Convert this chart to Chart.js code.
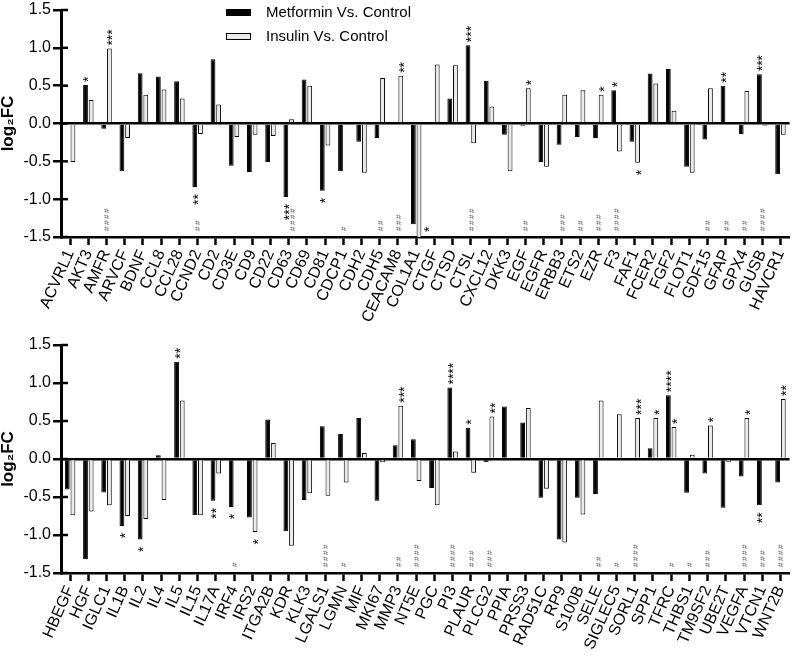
<!DOCTYPE html>
<html>
<head>
<meta charset="utf-8">
<script src="https://cdn.jsdelivr.net/npm/chart.js@4/dist/chart.umd.min.js"></script>
<style>
  body { margin: 0; background: #fff; }
  canvas { display: block; }
</style>
</head>
<body>
<canvas id="topChart" width="800" height="335"></canvas>
<canvas id="bottomChart" width="800" height="322"></canvas>
<script>
// ---- data: upper panel ----
const labelsTop = ['ACVRL1', 'AKT3', 'AMFR', 'ARVCF', 'BDNF', 'CCL8', 'CCL28', 'CCND2', 'CD2', 'CD3E',
  'CD9', 'CD22', 'CD63', 'CD69', 'CD81', 'CDCP1', 'CDH2', 'CDH5', 'CEACAM8', 'COL1A1',
  'CTGF', 'CTSD', 'CTSL', 'CXCL12', 'DKK3', 'EGF', 'EGFR', 'ERBB3', 'ETS2', 'EZR',
  'F3', 'FAF1', 'FCER2', 'FGF2', 'FLOT1', 'GDF15', 'GFAP', 'GPX4', 'GUSB', 'HAVCR1'];
const metforminTop = [0.0, 0.51, -0.07, -0.63, 0.665, 0.62, 0.56, -0.84, 0.85, -0.56,
  -0.64, -0.51, -0.97, 0.58, -0.89, -0.63, -0.24, -0.19, 0.0, -1.33,
  0.01, 0.33, 1.035, 0.565, -0.15, -0.03, -0.51, -0.28, -0.18, -0.19,
  0.44, -0.24, 0.66, 0.72, -0.57, -0.21, 0.50, -0.14, 0.65, -0.67];
const insulinTop = [-0.51, 0.31, 0.99, -0.19, 0.38, 0.45, 0.33, -0.14, 0.25, -0.18,
  -0.15, -0.165, 0.057, 0.50, -0.29, 0.017, -0.65, 0.60, 0.63, -1.52,
  0.78, 0.77, -0.26, 0.226, -0.63, 0.465, -0.57, 0.38, 0.44, 0.38,
  -0.37, -0.52, 0.53, 0.17, -0.65, 0.465, 0.013, 0.43, -0.03, -0.15];
const metStarsTop = { AKT3: '*', CCND2: '**', CD63: '***', CD81: '*', CTSL: '***', F3: '*', GFAP: '**', GUSB: '***' };
const insStarsTop = { AMFR: '***', CEACAM8: '**', COL1A1: '*', EGF: '*', EZR: '*', FAF1: '*' };
const hashTop = { AMFR: '####', CCND2: '##', CD63: '####', CDCP1: '#', CDH5: '##', CEACAM8: '###', CTSL: '####',
  EGF: '##', ERBB3: '###', ETS2: '##', EZR: '###', F3: '####', GDF15: '##', GFAP: '##', GPX4: '##', GUSB: '####' };

// ---- data: lower panel ----
const labelsBottom = ['HBEGF', 'HGF', 'IGLC1', 'IL1B', 'IL2', 'IL4', 'IL5', 'IL15', 'IL17A', 'IRF4',
  'IRS2', 'ITGA2B', 'KDR', 'KLK3', 'LGALS1', 'LGMN', 'MIF', 'MKI67', 'MMP3', 'NT5E',
  'PGC', 'PI3', 'PLAUR', 'PLCG2', 'PPIA', 'PRSS3', 'RAD51C', 'RP9', 'S100B', 'SELE',
  'SIGLEC5', 'SORL1', 'SPP1', 'TFRC', 'THBS1', 'TM9SF2', 'UBE2T', 'VEGFA', 'VTCN1', 'WNT2B'];
const metforminBottom = [-0.40, -1.32, -0.44, -0.88, -1.06, 0.05, 1.28, -0.74, -0.55, -0.63,
  -0.77, 0.52, -0.95, -0.54, 0.43, 0.33, 0.54, -0.55, 0.18, 0.26,
  -0.38, 0.94, 0.41, -0.04, 0.69, 0.48, -0.51, -1.06, -0.51, -0.46,
  -0.02, 0.0, 0.14, 0.84, -0.445, -0.19, -0.64, -0.23, -0.61, -0.31];
const insulinBottom = [-0.74, -0.69, -0.61, -0.75, -0.79, -0.54, 0.77, -0.74, -0.19, 0.0,
  -0.96, 0.21, -1.14, -0.45, -0.485, -0.31, 0.08, -0.04, 0.70, -0.29,
  -0.61, 0.10, -0.18, 0.56, 0.02, 0.67, -0.39, -1.10, -0.73, 0.77,
  0.59, 0.54, 0.54, 0.42, 0.057, 0.44, -0.035, 0.54, 0.0, 0.79];
const metStarsBottom = { IL1B: '*', IL2: '*', IL5: '**', IL17A: '**', IRF4: '*', PI3: '****', PLAUR: '*', TFRC: '****', VTCN1: '**' };
const insStarsBottom = { IRS2: '*', MMP3: '***', PLCG2: '**', SORL1: '***', SPP1: '*', TFRC: '*', TM9SF2: '*', VEGFA: '*', WNT2B: '**' };
const hashBottom = { IRF4: '#', LGALS1: '####', LGMN: '#', MMP3: '##', NT5E: '####', PI3: '####', PLAUR: '###', PLCG2: '###',
  SELE: '##', SIGLEC5: '#', SORL1: '####', TFRC: '#', THBS1: '#', TM9SF2: '###', VEGFA: '####', VTCN1: '###', WNT2B: '####' };

const yTicks = [-1.5, -1.0, -0.5, 0.0, 0.5, 1.0, 1.5];
const seriesNames = ['Metformin Vs. Control', 'Insulin Vs. Control'];

const FONT = "'Liberation Sans', Arial, sans-serif";
Chart.defaults.font.family = FONT;
Chart.defaults.color = '#000';

// text rotated 90deg, the way the significance marks are set
function vText(ctx, s, x, y, align, size, rise) {
  ctx.save();
  ctx.translate(x, y);
  ctx.rotate(-Math.PI / 2);
  ctx.font = size + 'px ' + FONT;
  ctx.textAlign = align;
  ctx.textBaseline = 'alphabetic';
  ctx.fillText(s, 0, rise * size);
  ctx.restore();
}

const marksPlugin = {
  id: 'marks',
  afterDatasetsDraw(chart) {
    const { ctx, chartArea } = chart;
    const xs = chart.scales.x, ys = chart.scales.y;
    ctx.save();
    // y ticks also poke into the plot
    ctx.strokeStyle = '#000';
    ctx.lineWidth = 2.5;
    ys.ticks.forEach((t, i) => {
      const py = ys.getPixelForTick(i);
      ctx.beginPath();
      ctx.moveTo(chartArea.left, py);
      ctx.lineTo(chartArea.left + 7, py);
      ctx.stroke();
    });
    ctx.fillStyle = '#000';
    const lowest = {}; // lowest star pixel below a bar, per label
    chart.data.datasets.forEach((ds, di) => {
      const meta = chart.getDatasetMeta(di);
      chart.data.labels.forEach((lab, i) => {
        const s = ds.stars[lab];
        if (!s) return;
        const bar = meta.data[i];
        ctx.font = '14px ' + FONT;
        const w = ctx.measureText(s).width;
        if (ds.data[i] >= 0) {
          vText(ctx, s, bar.x, bar.y - 3, 'left', 14, 0.57);
        } else if (bar.y + 7 + w > chartArea.bottom - 3) {
          // bar runs off the axis: put the mark beside it
          vText(ctx, s, bar.x + bar.width + 2, chartArea.bottom - 5, 'left', 14, 0.57);
        } else {
          vText(ctx, s, bar.x, bar.y + 7, 'right', 14, 0.57);
          lowest[lab] = { y: bar.y + 7 + w, ds: di };
        }
      });
    });
    ctx.fillStyle = '#555';
    const hashes = chart.options.plugins.marks.hashes;
    const step = 6;
    chart.data.labels.forEach((lab, i) => {
      const h = hashes[lab];
      if (!h) return;
      const base = chartArea.bottom - 6;
      let x = xs.getPixelForValue(i);
      const hit = lowest[lab];
      if (hit && hit.y > base - h.length * step - 2) {
        // move next to the other bar so it does not sit on the stars
        x = chart.getDatasetMeta(1 - hit.ds).data[i].x + 1;
      }
      for (let k = 0; k < h.length; k++) vText(ctx, '#', x, base - k * step, 'left', 8, 0.36);
    });
    ctx.restore();
  }
};

const legendPlugin = {
  id: 'boxLegend',
  afterDraw(chart, args, opts) {
    const ctx = chart.ctx;
    ctx.save();
    chart.data.datasets.forEach((ds, i) => {
      const yy = opts.y + i * opts.gap;
      ctx.fillStyle = ds.backgroundColor;
      ctx.fillRect(opts.x, yy - 3.5, 25, 7);
      ctx.strokeStyle = ds.borderColor;
      ctx.lineWidth = 1;
      ctx.strokeRect(opts.x + 0.5, yy - 3, 24, 6);
      ctx.fillStyle = '#000';
      ctx.font = '15px ' + FONT;
      ctx.textAlign = 'left';
      ctx.textBaseline = 'middle';
      ctx.fillText(ds.label, opts.x + 40, yy);
    });
    ctx.restore();
  }
};

function makeChart(id, labels, met, ins, metStars, insStars, hashes, xHeight, padTop, withLegend) {
  const plugins = [marksPlugin];
  if (withLegend) plugins.push(legendPlugin);
  return new Chart(document.getElementById(id), {
    type: 'bar',
    data: {
      labels: labels,
      datasets: [
        { label: seriesNames[0], data: met, stars: metStars, backgroundColor: '#000', borderColor: '#000', borderWidth: 1 },
        { label: seriesNames[1], data: ins, stars: insStars, backgroundColor: '#ebebeb', borderColor: '#000', borderWidth: 1 }
      ]
    },
    options: {
      responsive: false,
      animation: false,
      layout: { padding: { top: padTop, right: 0, left: 0, bottom: 0 } },
      datasets: { bar: { categoryPercentage: 0.62, barPercentage: 0.85 } },
      plugins: {
        legend: { display: false },
        tooltip: { enabled: false },
        marks: { hashes: hashes },
        boxLegend: { x: 226, y: 12.5, gap: 24 }
      },
      scales: {
        x: {
          offset: true,
          afterFit: (s) => { s.height = xHeight; },
          grid: { display: true, drawOnChartArea: false, offset: false, tickLength: 8, tickWidth: 2.5, tickColor: '#000' },
          border: { display: true, color: '#000', width: 2.5 },
          ticks: { autoSkip: false, minRotation: 66, maxRotation: 66, padding: 2, font: { size: 16 } }
        },
        y: {
          min: -1.5,
          max: 1.5,
          afterFit: (s) => { s.width = 61; },
          afterBuildTicks: (s) => { s.ticks = yTicks.map(v => ({ value: v })); },
          title: { display: true, text: 'log₂FC', font: { size: 17, weight: 'bold', lineHeight: 1 }, padding: 0 },
          grid: {
            color: (c) => (c.tick && c.tick.value === 0 ? '#000' : 'rgba(0,0,0,0)'),
            lineWidth: 2.5,
            tickColor: '#000', tickWidth: 2.5, tickLength: 8
          },
          border: { display: true, color: '#000', width: 3 },
          ticks: { padding: 2, font: { size: 16, lineHeight: 1 }, callback: (v) => Number(v).toFixed(1) }
        }
      }
    },
    plugins: plugins
  });
}

makeChart('topChart', labelsTop, metforminTop, insulinTop, metStarsTop, insStarsTop, hashTop, 98, 0, true);
makeChart('bottomChart', labelsBottom, metforminBottom, insulinBottom, metStarsBottom, insStarsBottom, hashBottom, 84, 1, false);
</script>
</body>
</html>
